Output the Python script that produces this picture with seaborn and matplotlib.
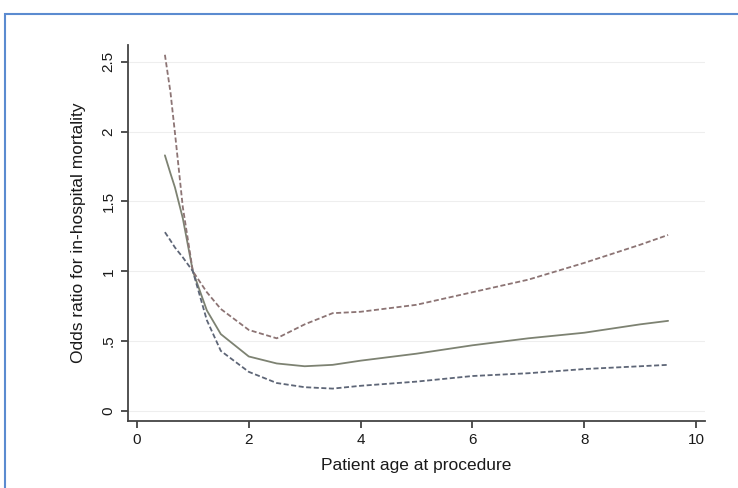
import matplotlib
matplotlib.use("Agg")
import matplotlib.pyplot as plt
from matplotlib import font_manager
import matplotlib.patches as mpatches
import seaborn as sns
import pandas as pd

# ---- data ----
age = [0.5, 0.6, 0.68, 0.82, 1.0, 1.25, 1.5, 2.0, 2.5, 3.0, 3.5, 4.0, 5.0, 6.0, 7.0, 8.0, 9.0, 9.5]
or_est = [1.83, 1.70, 1.60, 1.38, 1.00, 0.72, 0.55, 0.39, 0.34, 0.32, 0.33, 0.36, 0.41, 0.47, 0.52, 0.56, 0.62, 0.645]
ci_upper = [2.55, 2.28, 1.99, 1.46, 1.00, 0.85, 0.73, 0.58, 0.52, 0.62, 0.70, 0.71, 0.76, 0.85, 0.94, 1.06, 1.19, 1.26]
ci_lower = [1.28, 1.22, 1.17, 1.10, 1.00, 0.65, 0.43, 0.28, 0.20, 0.17, 0.16, 0.18, 0.21, 0.25, 0.27, 0.30, 0.32, 0.33]
xticks = [0, 2, 4, 6, 8, 10]
yticks = [0, 0.5, 1, 1.5, 2, 2.5]
ytick_labels = ["0", ".5", "1", "1.5", "2", "2.5"]

sns.set_style("white")
names = {f.name for f in font_manager.fontManager.ttflist}
fam = "Liberation Sans Narrow" if "Liberation Sans Narrow" in names else "Liberation Sans"
plt.rcParams['font.family'] = [fam, 'DejaVu Sans']

df = pd.DataFrame({
    "age": age * 3,
    "value": or_est + ci_upper + ci_lower,
    "series": ["est"] * len(age) + ["upper"] * len(age) + ["lower"] * len(age),
})

fig = plt.figure(figsize=(7.38, 4.88), dpi=100)
ax = fig.add_axes([128/738, 67/488, (705-128)/738, (421-45)/488])

palette = {"est": "#7d8272", "upper": "#8c7474", "lower": "#5e6677"}
sns.lineplot(data=df, x="age", y="value", hue="series", style="series",
             palette=palette, dashes={"est": "", "upper": (2.8, 1.4), "lower": (2.8, 1.4)},
             linewidth=1.3, legend=False, ax=ax, sort=False)

ax.set_xlim(-0.16, 10.16)
ax.set_ylim(-0.072, 2.62)
ax.set_xticks(xticks)
ax.set_yticks(yticks)
ax.set_yticklabels(ytick_labels, rotation=90, va="center")
ax.tick_params(axis="both", direction="out", length=5, width=1.2, color="#333333",
               labelsize=11, labelcolor="#1a1a1a", left=True, bottom=True)
for t in ax.get_yticklabels():
    t.set_horizontalalignment("center")
ax.tick_params(axis="y", pad=9)
for y in yticks:
    ax.axhline(y, color="#eeeeee", linewidth=0.8, zorder=0)
for s in ["top", "right"]:
    ax.spines[s].set_visible(False)
for s in ["left", "bottom"]:
    ax.spines[s].set_color("#444444")
    ax.spines[s].set_linewidth(1.3)

ax.set_xlabel("Patient age at procedure", fontsize=12.5, color="#1a1a1a", labelpad=8)
ax.set_ylabel("Odds ratio for in-hospital mortality", fontsize=12.5, color="#1a1a1a", labelpad=11)

# blue frame
frame = mpatches.Rectangle((5/738, -0.05), 1.2, (488-14)/488 + 0.05, transform=fig.transFigure,
                           fill=False, edgecolor="#5b8bd0", linewidth=1.5)
fig.patches.append(frame)

fig.savefig("out.png", dpi=100)
